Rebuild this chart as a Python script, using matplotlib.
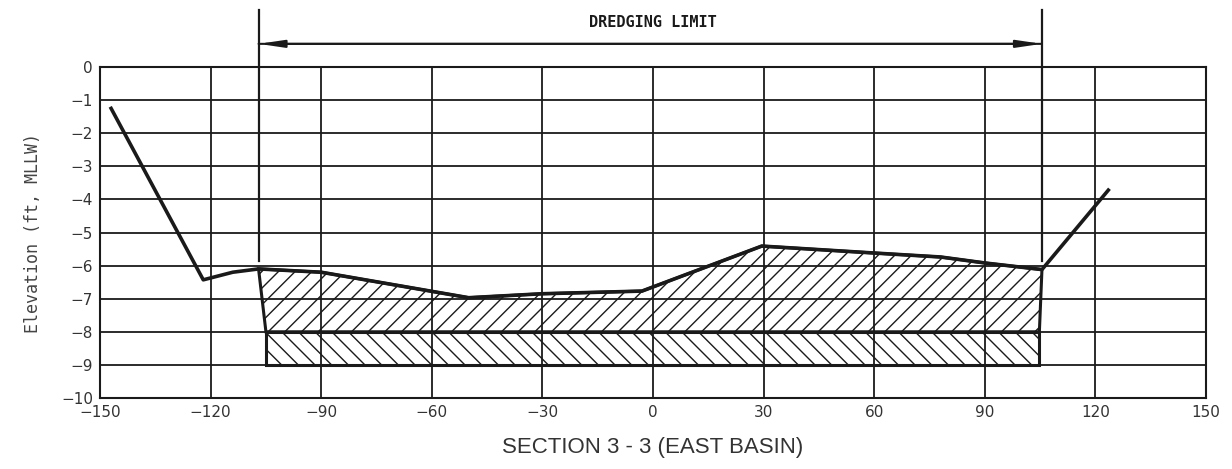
"""
Cross-section plot: Section 3-3 (East Basin) with dredging limit
"""
import numpy as np
from matplotlib import pyplot as plt

# existing ground profile (station ft, elevation ft MLLW)
ground_x = [-147, -122, -114, -107, -90, -50, -30, -3, 29.5, 60, 78, 90, 105.5, 123.5]
ground_y = [-1.25, -6.43, -6.2, -6.1, -6.2, -6.97, -6.85, -6.77, -5.41, -5.62, -5.74, -5.92, -6.12, -3.72]

# dredging limit stations and cut depths
dredge_left = -107
dredge_right = 105.5
cut_left = -105
cut_right = 104.8
design_depth = -8
overdredge_depth = -9

x_ticks = [-150, -120, -90, -60, -30, 0, 30, 60, 90, 120, 150]
y_ticks = [0, -1, -2, -3, -4, -5, -6, -7, -8, -9, -10]

ink = "#1a1a1a"
plt.rcParams['hatch.linewidth'] = 1.0
plt.rcParams['hatch.color'] = ink

fig = plt.figure(figsize=(12.32, 4.69), dpi=100)
ax = fig.add_axes([0.0812, 0.1514, 0.8977, 0.7057])

ax.set_xlim(-150, 150)
ax.set_ylim(-10, 0)
ax.set_xticks(x_ticks)
ax.set_yticks(y_ticks)
ax.set_xticklabels([str(v).replace("-", "\u2212") for v in x_ticks])
ax.set_yticklabels([str(v).replace("-", "\u2212") for v in y_ticks])
ax.grid(True, color=ink, linewidth=1.3)
ax.set_axisbelow(True)
ax.tick_params(length=0, labelsize=11, labelcolor="#333333", pad=5)
for spine in ax.spines.values():
    spine.set_linewidth(1.5)
    spine.set_color(ink)

# upper cut (existing ground down to design depth)
gx = np.array(ground_x)
gy = np.array(ground_y)
inside = (gx >= dredge_left) & (gx <= dredge_right)
upper_x = list(gx[inside]) + [cut_right, cut_left]
upper_y = list(gy[inside]) + [design_depth, design_depth]
ax.fill(upper_x, upper_y, facecolor="none", edgecolor=ink, hatch="//", linewidth=2.2)

# overdredge band
lower_x = [cut_left, cut_right, cut_right, cut_left]
lower_y = [design_depth, design_depth, overdredge_depth, overdredge_depth]
ax.fill(lower_x, lower_y, facecolor="none", edgecolor=ink, hatch="\\\\", linewidth=2.2)

# ground profile
ax.plot(ground_x, ground_y, color=ink, linewidth=2.6, solid_joinstyle="round")

# dredging limit markers above the plot
for xs in (dredge_left, dredge_right):
    ax.plot([xs, xs], [1.72, -5.85], color=ink, linewidth=1.6, clip_on=False)
head = "-|>,head_length=1.5,head_width=0.22"
ax.annotate("", xy=(dredge_left, 0.7), xytext=(dredge_right, 0.7), annotation_clip=False,
            arrowprops=dict(arrowstyle=head, color=ink, lw=1.5, shrinkA=0, shrinkB=0))
ax.annotate("", xy=(dredge_right, 0.7), xytext=(dredge_left, 0.7), annotation_clip=False,
            arrowprops=dict(arrowstyle=head, color=ink, lw=1.5, shrinkA=0, shrinkB=0))
ax.text(0, 1.36, "DREDGING LIMIT", ha="center", va="center", fontsize=11,
        family="DejaVu Sans Mono", fontweight="bold", color=ink)

ax.set_xlabel("SECTION 3 - 3 (EAST BASIN)", family="Liberation Sans", fontsize=16,
              color="#333333", labelpad=12)
ax.set_ylabel("Elevation (ft, MLLW)", family="DejaVu Sans Mono", fontsize=12,
              color="#444444", labelpad=14)

plt.savefig("out.png", dpi=100)
